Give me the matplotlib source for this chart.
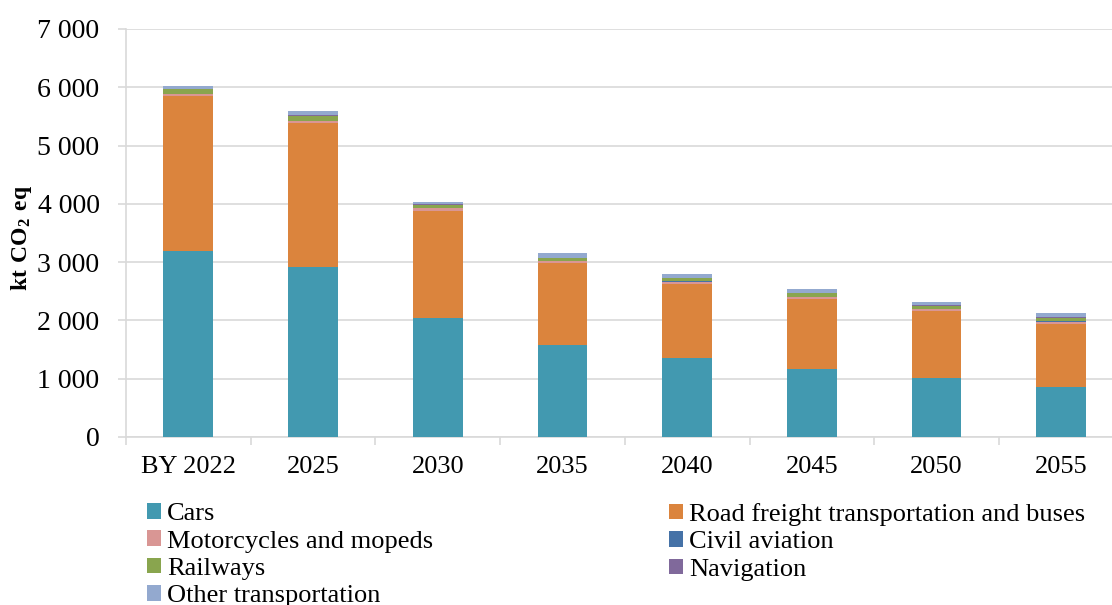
import numpy as np
import matplotlib
matplotlib.use("Agg")
import matplotlib.pyplot as plt
from matplotlib.patches import Patch

plt.rcParams['font.family'] = ['Liberation Serif', 'DejaVu Serif']
plt.rcParams['mathtext.fontset'] = 'custom'
plt.rcParams['mathtext.bf'] = 'Liberation Serif:bold'
plt.rcParams['mathtext.rm'] = 'Liberation Serif'

years = ['BY 2022', '2025', '2030', '2035', '2040', '2045', '2050', '2055']

# emissions by sector, kt CO2 eq
cars = [3190, 2915, 2045, 1580, 1355, 1165, 1012, 858]
freight = [2655, 2475, 1840, 1400, 1270, 1205, 1145, 1080]
motorcycles = [35, 35, 40, 35, 40, 35, 40, 40]
aviation = [5, 5, 5, 5, 5, 5, 5, 5]
railways = [80, 85, 50, 45, 55, 55, 50, 55]
navigation = [10, 10, 10, 10, 10, 10, 15, 17]
other = [50, 65, 45, 75, 55, 65, 55, 65]

series = [
    ('Cars', cars, '#4299B0'),
    ('Road freight transportation and buses', freight, '#DB843D'),
    ('Motorcycles and mopeds', motorcycles, '#D99694'),
    ('Civil aviation', aviation, '#4572A7'),
    ('Railways', railways, '#89A54E'),
    ('Navigation', navigation, '#80699B'),
    ('Other transportation', other, '#93A9CF'),
]

FS = 19

fig = plt.figure(figsize=(11.12, 6.05), dpi=100)
ax = fig.add_axes([126 / 1112, 1 - 437 / 605, 997.6 / 1112, 408 / 605])

x = np.arange(len(years))
bottom = np.zeros(len(years))
for name, vals, col in series:
    ax.bar(x, vals, width=0.4, bottom=bottom, color=col, zorder=3)
    bottom += np.array(vals)

ax.set_xlim(-0.5, len(years) - 0.5)
ax.set_ylim(0, 7000)
ax.set_yticks(np.arange(0, 7001, 1000))
ax.set_yticklabels([f'{v:,}'.replace(',', ' ') for v in range(0, 7001, 1000)])
ax.set_xticks(x)
ax.set_xticklabels(years)
ax.set_xticks(np.arange(-0.5, len(years), 1), minor=True)

grid_c = '#D9D9D9'
ax.yaxis.grid(True, color=grid_c, linewidth=1.2, zorder=0)
for s in ['top', 'right']:
    ax.spines[s].set_visible(False)
ax.spines['left'].set_color(grid_c)
ax.spines['bottom'].set_color(grid_c)
ax.spines['left'].set_linewidth(1.2)
ax.spines['bottom'].set_linewidth(1.2)

ax.tick_params(axis='y', length=6, width=1.2, color=grid_c, pad=13, labelsize=20)
ax.tick_params(axis='x', which='major', length=0, pad=14, labelsize=FS)
ax.tick_params(axis='x', which='minor', length=6, width=1.2, color=grid_c)

fig.text(22 / 1112, 1 - 238 / 605, r'$\mathbf{kt\ CO_2\ eq}$', rotation=90,
         ha='center', va='center', fontsize=17)

handles = [Patch(facecolor=c, label=n) for n, _, c in series]
leg_kw = dict(frameon=False, loc='upper left', borderpad=0, borderaxespad=0,
              handlelength=0.53, handleheight=0.53, handletextpad=0.24,
              labelspacing=0.2, fontsize=FS)
left_items = [handles[i] for i in (0, 2, 4, 6)]
right_items = [handles[i] for i in (1, 3, 5)]
fig.legend(handles=left_items, bbox_to_anchor=(147 / 1112, 1 - 503 / 605), **leg_kw)
fig.legend(handles=right_items, bbox_to_anchor=(669 / 1112, 1 - 503 / 605), **leg_kw)

fig.savefig('out.png', dpi=100)
